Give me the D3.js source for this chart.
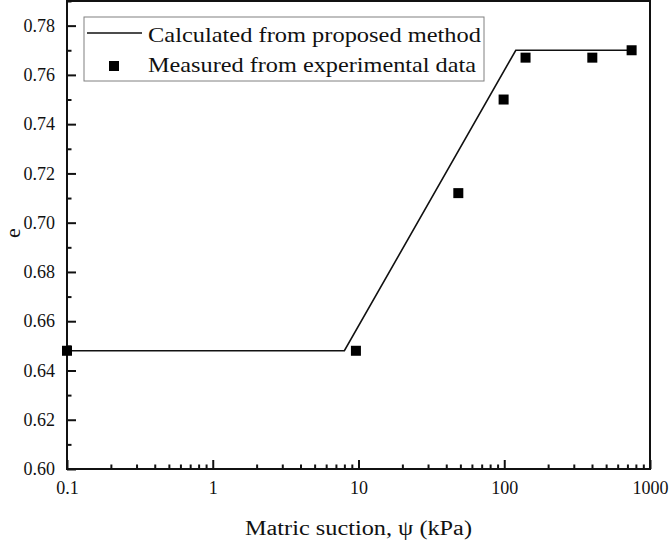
<!DOCTYPE html>
<html><head><meta charset="utf-8">
<script src="https://cdn.jsdelivr.net/npm/d3@7"></script>
<style>body{margin:0;background:#fff}svg{display:block}</style>
</head><body><svg id="c" width="669" height="541"></svg>
<script>
// Data
const lineX = [0.1, 8, 120, 750];
const lineY = [0.648, 0.648, 0.770, 0.770];
const ptX = [0.1, 9.6, 48.4, 99, 140, 402, 748];
const ptY = [0.648, 0.648, 0.712, 0.750, 0.767, 0.767, 0.770];
const xTicks = [0.1, 1, 10, 100, 1000];
const xTickLabels = ["0.1", "1", "10", "100", "1000"];
const yTicks = [0.60, 0.62, 0.64, 0.66, 0.68, 0.70, 0.72, 0.74, 0.76, 0.78];
const legendLabels = ["Calculated from proposed method", "Measured from experimental data"];
const xTitle = "Matric suction, \u03c8 (kPa)";
const yTitle = "e";

const FONT = '"Liberation Serif","Times New Roman",Times,"DejaVu Serif",serif';
const L = 67, R = 650, T = 1, B = 469;
const svg = d3.select("#c").attr("font-family", FONT);
const x = d3.scaleLog().domain([0.1, 1000]).range([L, R]);
const y = d3.scaleLinear().domain([0.60, 0.79]).range([B, T]);

const xMinor = [];
for (let d = 0.1; d < 1000; d *= 10) for (let k = 2; k <= 9; k++) xMinor.push(d * k);
const yMinor = d3.range(0.61, 0.79, 0.02);

function styleAxis(g) {
  g.attr("font-family", FONT);
  g.select(".domain").remove();
  g.selectAll(".tick line").attr("stroke", "#111").attr("stroke-width", 2);
  g.selectAll(".tick text").attr("font-size", 18).attr("fill", "#111");
}

const gx = svg.append("g").attr("transform", `translate(0,${B})`)
  .call(d3.axisBottom(x).tickValues(xTicks).tickFormat((d, i) => xTickLabels[i]).tickSizeInner(-9).tickSizeOuter(0).tickPadding(12));
styleAxis(gx);
const gxm = svg.append("g").attr("transform", `translate(0,${B})`)
  .call(d3.axisBottom(x).tickValues(xMinor).tickFormat("").tickSizeInner(-4.5).tickSizeOuter(0));
styleAxis(gxm);

const gy = svg.append("g").attr("transform", `translate(${L},0)`)
  .call(d3.axisLeft(y).tickValues(yTicks).tickFormat(d3.format(".2f")).tickSizeInner(-9).tickSizeOuter(0).tickPadding(12));
styleAxis(gy);
const gym = svg.append("g").attr("transform", `translate(${L},0)`)
  .call(d3.axisLeft(y).tickValues(yMinor).tickFormat("").tickSizeInner(-4.5).tickSizeOuter(0));
styleAxis(gym);

// frame
svg.append("rect").attr("x", L).attr("y", T).attr("width", R - L).attr("height", B - T)
  .attr("fill", "none").attr("stroke", "#111").attr("stroke-width", 2);

// line
const lineData = lineX.map((v, i) => [v, lineY[i]]);
svg.append("path").datum(lineData)
  .attr("d", d3.line().x(d => x(d[0])).y(d => y(d[1])))
  .attr("fill", "none").attr("stroke", "#111").attr("stroke-width", 1.6);

// points
const ms = 10;
svg.append("g").selectAll("rect").data(ptX.map((v, i) => [v, ptY[i]])).join("rect")
  .attr("x", d => x(d[0]) - ms / 2).attr("y", d => y(d[1]) - ms / 2)
  .attr("width", ms).attr("height", ms).attr("fill", "#000");

// legend
const lg = svg.append("g");
lg.append("rect").attr("x", 84).attr("y", 17).attr("width", 400).attr("height", 64)
  .attr("fill", "#fff").attr("stroke", "#808080").attr("stroke-width", 1);
lg.append("line").attr("x1", 87).attr("x2", 142).attr("y1", 33).attr("y2", 33)
  .attr("stroke", "#111").attr("stroke-width", 1.6);
lg.append("rect").attr("x", 114 - 5).attr("y", 66 - 5).attr("width", 10).attr("height", 10).attr("fill", "#000");
const legLens = [333, 328];
lg.selectAll("text").data(legendLabels).join("text")
  .attr("x", 148).attr("y", (d, i) => 41.5 + i * 30.5)
  .attr("font-size", 21).attr("fill", "#111")
  .attr("textLength", (d, i) => legLens[i]).attr("lengthAdjust", "spacingAndGlyphs")
  .text(d => d);

// titles
svg.append("text").attr("x", 245).attr("y", 535)
  .attr("font-size", 20).attr("fill", "#111")
  .attr("textLength", 227).attr("lengthAdjust", "spacingAndGlyphs").text(xTitle);
svg.append("text").attr("transform", `translate(20,${(T + B) / 2 - 2}) rotate(-90)`)
  .attr("text-anchor", "middle").attr("font-size", 22).attr("fill", "#111").text(yTitle);
</script></body></html>
